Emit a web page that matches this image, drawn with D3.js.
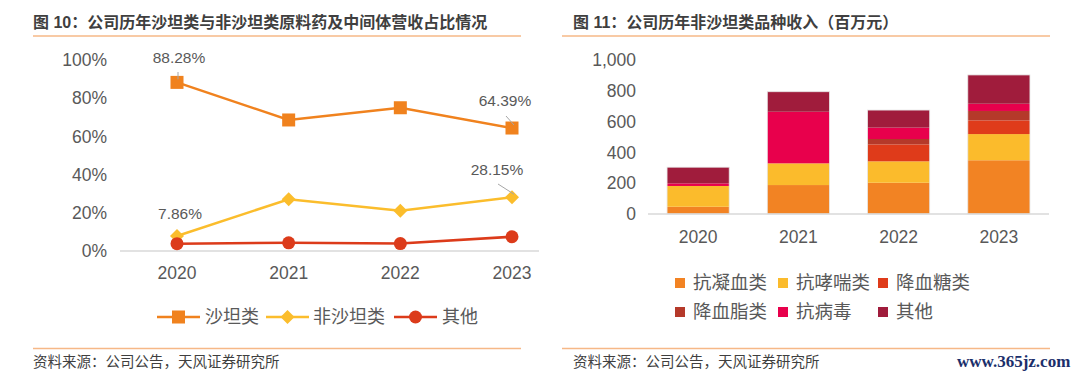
<!DOCTYPE html>
<html>
<head>
<meta charset="utf-8">
<script src="https://cdn.jsdelivr.net/npm/d3@7"></script>
<style>
  body { margin: 0; background: #fff; }
  text { font-family: "Liberation Sans", "Noto Sans CJK SC", sans-serif; }
</style>
</head>
<body>
<div id="chart"></div>
<script>
// data
var years = ["2020", "2021", "2022", "2023"];
var shareSartan = [88.28, 68.6, 75.0, 64.39];
var shareNonSartan = [7.86, 27.1, 21.1, 28.15];
var shareOther = [3.86, 4.3, 3.9, 7.46];
var shareTicks = [0, 20, 40, 60, 80, 100];

var products = ["抗凝血类", "抗哮喘类", "降血糖类", "降血脂类", "抗病毒", "其他"];
var anticoag = [47, 188, 203, 349];
var antiasthma = [135, 141, 139, 170];
var hypoglycemic = [0, 0, 110, 89];
var lipid = [0, 0, 35, 61];
var antiviral = [17, 335, 74, 47];
var otherRev = [105, 130, 114, 187];
var revTicks = [0, 200, 400, 600, 800, 1000];

var svg = d3.select("#chart").append("svg")
    .attr("width", 1080)
    .attr("height", 374);

var titleColor = "#3f3f3f";
var textColor = "#595959";
var ruleColor = "#f6b887";

// titles + rules
function panelFrame(x0, x1, titleX, title) {
  svg.append("text")
    .attr("x", titleX).attr("y", 28)
    .attr("font-size", 16).attr("font-weight", "bold")
    .attr("fill", titleColor)
    .text(title);
  svg.append("line")
    .attr("x1", x0).attr("x2", x1).attr("y1", 36).attr("y2", 36)
    .attr("stroke", ruleColor).attr("stroke-width", 1.5);
  svg.append("line")
    .attr("x1", x0).attr("x2", x1).attr("y1", 348.5).attr("y2", 348.5)
    .attr("stroke", ruleColor).attr("stroke-width", 1.5);
  svg.append("text")
    .attr("x", titleX).attr("y", 367)
    .attr("font-size", 14.5).attr("fill", titleColor)
    .text("资料来源：公司公告，天风证券研究所");
}
panelFrame(33, 521, 33, "图 10：公司历年沙坦类与非沙坦类原料药及中间体营收占比情况");
panelFrame(562, 1050, 573, "图 11：公司历年非沙坦类品种收入（百万元）");

svg.append("text")
  .attr("x", 957).attr("y", 367)
  .style("font-family", "'Liberation Serif', 'DejaVu Serif', serif")
  .attr("font-size", 17).attr("font-weight", "bold")
  .attr("fill", "#1b2f6b")
  .text("www.365jz.com");

// ---------- left: line chart ----------
var x1 = d3.scalePoint().domain(years).range([177, 512]);
var y1 = d3.scaleLinear().domain([0, 100]).range([251, 60]);

var left = svg.append("g");

left.append("line")
  .attr("x1", 120).attr("x2", 539)
  .attr("y1", y1(0)).attr("y2", y1(0))
  .attr("stroke", "#d9d9d9").attr("stroke-width", 1.5);

left.selectAll(".ytick").data(shareTicks).enter().append("text")
  .attr("x", 107).attr("y", d => y1(d))
  .attr("dy", "0.35em").attr("text-anchor", "end")
  .attr("font-size", 17.5).attr("fill", textColor)
  .text(d => d + "%");

left.selectAll(".xtick").data(years).enter().append("text")
  .attr("x", d => x1(d)).attr("y", 279)
  .attr("text-anchor", "middle")
  .attr("font-size", 17.5).attr("fill", textColor)
  .text(d => d);

var series = [
  { name: "沙坦类", values: shareSartan, color: "#f0821e", marker: "square" },
  { name: "非沙坦类", values: shareNonSartan, color: "#fbbd2c", marker: "diamond" },
  { name: "其他", values: shareOther, color: "#dc3b1a", marker: "circle" }
];

var line = d3.line().x((d, i) => x1(years[i])).y(d => y1(d));

function drawMarker(g, type, cx, cy, color) {
  if (type === "square") {
    g.append("rect").attr("x", cx - 6.5).attr("y", cy - 6.5)
      .attr("width", 13).attr("height", 13).attr("fill", color);
  } else if (type === "diamond") {
    g.append("path")
      .attr("d", `M${cx},${cy - 7}L${cx + 7},${cy}L${cx},${cy + 7}L${cx - 7},${cy}Z`)
      .attr("fill", color);
  } else {
    g.append("circle").attr("cx", cx).attr("cy", cy).attr("r", 6.5).attr("fill", color);
  }
}

series.forEach(function(s) {
  left.append("path")
    .attr("d", line(s.values))
    .attr("fill", "none").attr("stroke", s.color).attr("stroke-width", 2.5);
  s.values.forEach(function(v, i) {
    drawMarker(left, s.marker, x1(years[i]), y1(v), s.color);
  });
});

// data labels with leader lines
var callouts = [
  { v: shareSartan[0], i: 0, lx: 179, ly: 58, fx: 178, fy: 72 },
  { v: shareSartan[3], i: 3, lx: 505, ly: 101, fx: 506, fy: 116 },
  { v: shareNonSartan[0], i: 0, lx: 180, ly: 214, fx: null },
  { v: shareNonSartan[3], i: 3, lx: 497, ly: 170, fx: 498, fy: 184 }
];
callouts.forEach(function(c) {
  var px = x1(years[c.i]), py = y1(c.v);
  if (c.fx !== null) {
    left.append("line")
      .attr("x1", c.fx).attr("y1", c.fy)
      .attr("x2", px + (c.i === 3 ? 2 : 1)).attr("y2", py - 3)
      .attr("stroke", "#a6a6a6").attr("stroke-width", 1);
  }
  left.append("text")
    .attr("x", c.lx).attr("y", c.ly)
    .attr("dy", "0.35em").attr("text-anchor", "middle")
    .attr("font-size", 15.5).attr("fill", textColor)
    .text(c.v.toFixed(2) + "%");
});

// left legend
var legL = [
  { x: 157, tx: 205 },
  { x: 266, tx: 313 },
  { x: 394, tx: 442 }
];
series.forEach(function(s, i) {
  var lx = legL[i].x;
  left.append("line")
    .attr("x1", lx).attr("x2", lx + 43).attr("y1", 317).attr("y2", 317)
    .attr("stroke", s.color).attr("stroke-width", 2.5);
  drawMarker(left, s.marker, lx + 21.5, 317, s.color);
  left.append("text")
    .attr("x", legL[i].tx).attr("y", 317).attr("dy", "0.35em")
    .attr("font-size", 18).attr("fill", textColor)
    .text(s.name);
});

// ---------- right: stacked bars ----------
var revTable = years.map(function(yr, i) {
  return {
    year: yr,
    "抗凝血类": anticoag[i],
    "抗哮喘类": antiasthma[i],
    "降血糖类": hypoglycemic[i],
    "降血脂类": lipid[i],
    "抗病毒": antiviral[i],
    "其他": otherRev[i]
  };
});
var barColors = d3.scaleOrdinal().domain(products)
  .range(["#f28323", "#fbbb2c", "#df3b1a", "#b5392a", "#e8004c", "#a01c3c"]);

var x2 = d3.scaleBand().domain(years).range([648, 1049]).paddingInner(0.38).paddingOuter(0.19);
var y2 = d3.scaleLinear().domain([0, 1000]).range([214, 60]);

var right = svg.append("g");

right.selectAll(".ytick").data(revTicks).enter().append("text")
  .attr("x", 636).attr("y", d => y2(d))
  .attr("dy", "0.35em").attr("text-anchor", "end")
  .attr("font-size", 17.5).attr("fill", textColor)
  .text(d => d3.format(",")(d));

var stack = d3.stack().keys(products)(revTable);

right.selectAll(".layer").data(stack).enter().append("g")
  .attr("fill", d => barColors(d.key))
  .selectAll("rect").data(d => d).enter().append("rect")
  .attr("x", d => x2(d.data.year))
  .attr("width", x2.bandwidth())
  .attr("y", d => y2(d[1]))
  .attr("height", d => y2(d[0]) - y2(d[1]));

// light outline around each bar
right.selectAll(".outline").data(revTable).enter().append("rect")
  .attr("x", d => x2(d.year))
  .attr("width", x2.bandwidth())
  .attr("y", d => y2(d3.sum(products, k => d[k])))
  .attr("height", d => y2(0) - y2(d3.sum(products, k => d[k])))
  .attr("fill", "none").attr("stroke", "#e6e6e6").attr("stroke-width", 0.8);

right.append("line")
  .attr("x1", 648).attr("x2", 1049)
  .attr("y1", y2(0)).attr("y2", y2(0))
  .attr("stroke", "#d9d9d9").attr("stroke-width", 1.5);

right.selectAll(".xtick").data(years).enter().append("text")
  .attr("x", d => x2(d) + x2.bandwidth() / 2).attr("y", 243)
  .attr("text-anchor", "middle")
  .attr("font-size", 17.5).attr("fill", textColor)
  .text(d => d);

// right legend
var legCols = [675, 778, 878];
var legRows = [283, 312];
products.forEach(function(p, i) {
  var cx = legCols[i % 3], cy = legRows[Math.floor(i / 3)];
  right.append("rect")
    .attr("x", cx).attr("y", cy - 5).attr("width", 10).attr("height", 10)
    .attr("fill", barColors(p));
  right.append("text")
    .attr("x", cx + 18).attr("y", cy).attr("dy", "0.35em")
    .attr("font-size", 18.5).attr("fill", textColor)
    .text(p);
});
</script>
</body>
</html>
